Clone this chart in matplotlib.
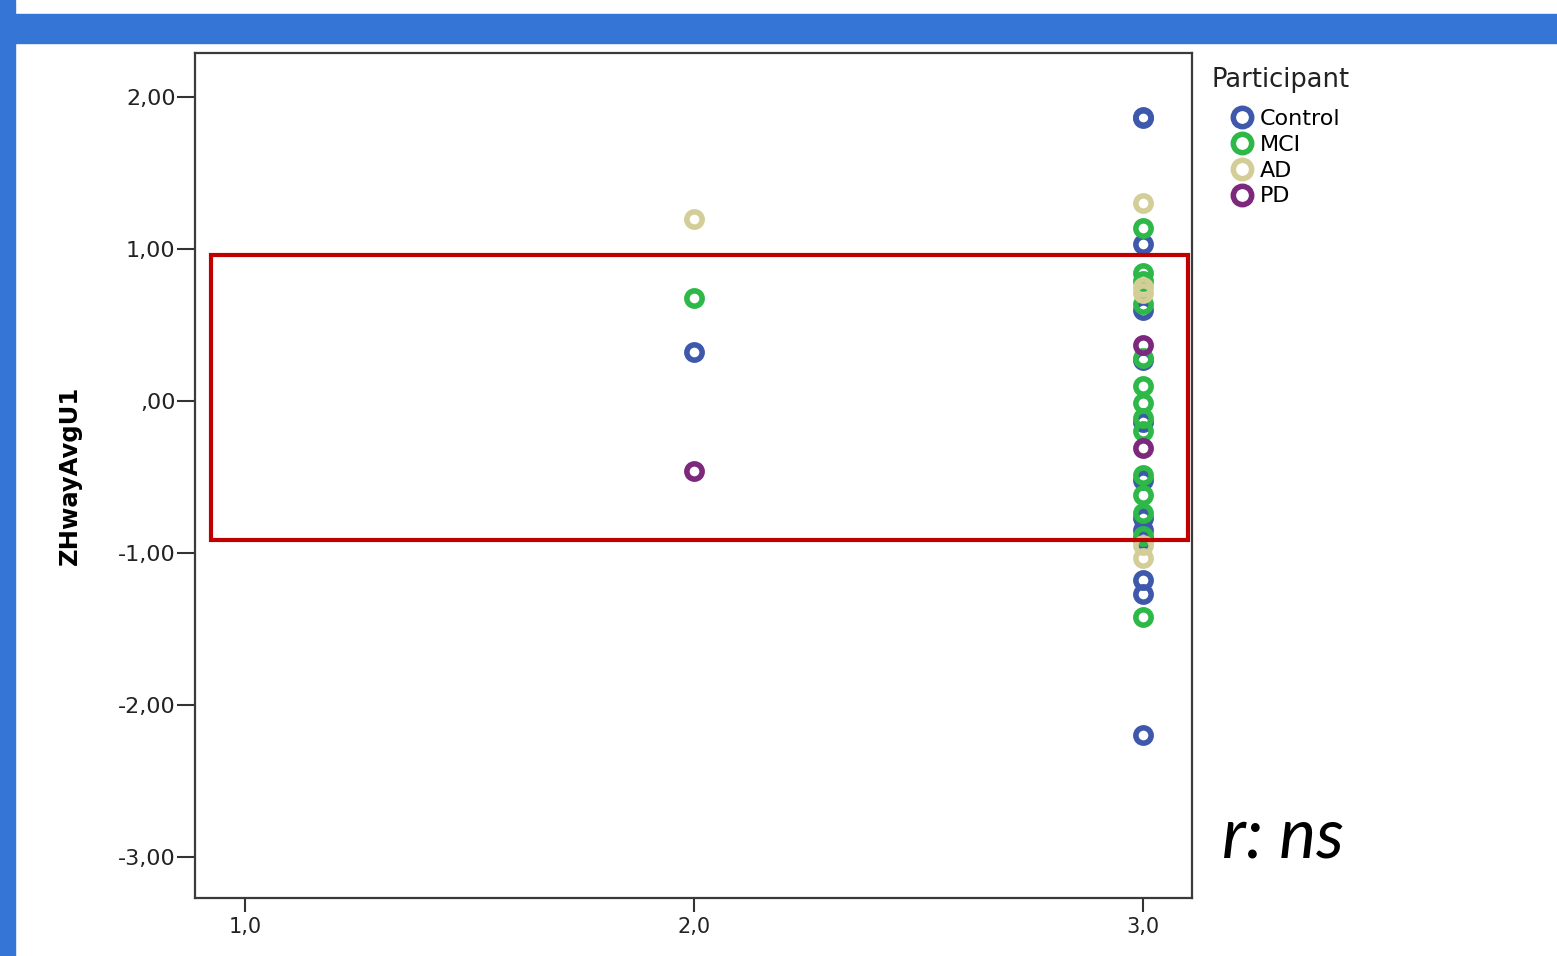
"""Scatter ZHwayAvgU1 by level, SPSS-style, with the highlighted band."""

import matplotlib
matplotlib.use("Agg", force=True)
import matplotlib.pyplot as plt
from matplotlib.patches import Rectangle

# --- data ------------------------------------------------------------------
groups = ["Control", "MCI", "AD", "PD"]
colors = ["#3E58AC", "#2EB848", "#D3CE97", "#7C287D"]

control_x = [2, 3, 3, 3, 3, 3, 3, 3, 3, 3, 3, 3, 3, 3]
control_y = [0.32, 1.87, 1.86, 1.03, 0.60, 0.27, -0.14, -0.52, -0.77,
             -0.85, -0.91, -1.18, -1.27, -2.20]

mci_x = [2, 3, 3, 3, 3, 3, 3, 3, 3, 3, 3, 3, 3, 3, 3]
mci_y = [0.68, 1.14, 0.84, 0.79, 0.64, 0.28, 0.10, -0.01, -0.11, -0.20,
         -0.49, -0.62, -0.74, -0.89, -1.42]

ad_x = [2, 3, 3, 3, 3, 3]
ad_y = [1.20, 1.30, 0.75, 0.71, -0.95, -1.03]

pd_x = [2, 3, 3]
pd_y = [-0.46, 0.37, -0.31]

yticks = [2, 1, 0, -1, -2, -3]
ytick_labels = ["2,00", "1,00", ",00", "-1,00", "-2,00", "-3,00"]
xticks = [1, 2, 3]
xtick_labels = ["1,0", "2,0", "3,0"]

series = [(control_x, control_y), (mci_x, mci_y), (ad_x, ad_y), (pd_x, pd_y)]

# --- figure -----------------------------------------------------------------
W, H = 1557, 956
fig = plt.figure(figsize=(W / 100, H / 100), dpi=100)
plt.rcParams["font.family"] = ["DejaVu Sans"]

# slide decoration: blue band on top and strip on the left
blue = "#3575D5"
fig.patches.append(Rectangle((0, 1 - 43 / H), 1, 29 / H, transform=fig.transFigure,
                             color=blue, zorder=0))
fig.patches.append(Rectangle((0, 0), 15 / W, 1, transform=fig.transFigure,
                             color=blue, zorder=0))

ax = fig.add_axes([195 / W, 1 - 898 / H, (1192 - 195) / W, (898 - 53) / H])

for name, col, (xs, ys) in zip(groups, colors, series):
    ax.plot(xs, ys, linestyle="none", marker="o", markersize=11,
            markerfacecolor="none", markeredgecolor=col, markeredgewidth=4,
            label=name, zorder=3)

ax.set_xlim(0.889, 3.109)
ax.set_ylim(-3.27, 2.29)
ax.set_yticks(yticks)
ax.set_yticklabels(ytick_labels)
ax.set_xticks(xticks)
ax.set_xticklabels(xtick_labels)
ax.tick_params(axis="y", direction="out", length=13, width=1.5, pad=1,
               labelsize=16, colors="#333333", labelcolor="#222222")
ax.tick_params(axis="x", direction="out", length=10, width=1.5, pad=4,
               labelsize=15, colors="#333333", labelcolor="#222222")
for sp in ax.spines.values():
    sp.set_color("#3a3a3a")
    sp.set_linewidth(1.6)

ax.set_ylabel("ZHwayAvgU1", fontsize=17.5, fontweight="bold", labelpad=26)

# red highlight box
ax.add_patch(Rectangle((0.924, -0.915), 3.100 - 0.924, 0.96 + 0.915,
                       fill=False, edgecolor="#C00000", linewidth=3, zorder=4))

# legend: title as plain text, entries below it
fig.text(1212 / W, 1 - 80 / H, "Participant", fontsize=18.5, color="#222222",
         va="center", ha="left")
fig.legend(loc="upper left", bbox_to_anchor=(1224 / W, 1 - 109 / H),
           frameon=False, fontsize=16, handletextpad=0.0, handlelength=1.6,
           labelspacing=0.26, markerscale=1.2, borderpad=0, borderaxespad=0)

fig.text(1222 / W, 1 - 858 / H, "r: ns", fontsize=50, style="italic",
         family=["Lato", "DejaVu Sans"], va="baseline", ha="left")

fig.savefig("out.png", dpi=100)
